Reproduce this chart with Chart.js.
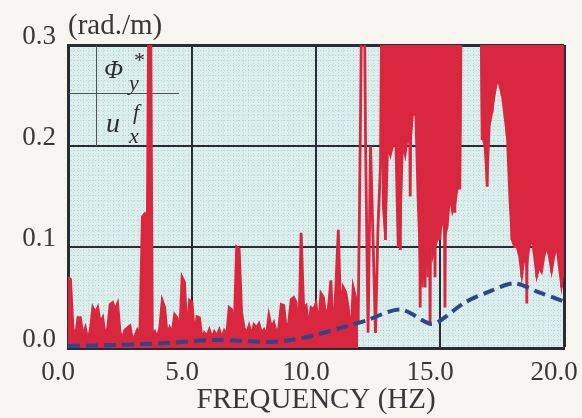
<!DOCTYPE html>
<html>
<head>
<meta charset="utf-8">
<script src="https://cdn.jsdelivr.net/npm/chart.js@4"></script>
<style>
  html, body { margin: 0; padding: 0; background: #f6f5f0; }
  #wrap { width: 582px; height: 418px; }
</style>
</head>
<body>
<div id="wrap"><canvas id="spec"></canvas></div>
<script>
// red trace sampled every 0.1 Hz from 0.0 to 20.0 (values above 0.3 run off the top)
const freqStep = 0.1;
const phiVals = [
    0.07, 0.068, 0.02, 0.01, 0.03, 0.03, 0.012, 0.02, 0.008, 0.018,
    0.04, 0.035, 0.04, 0.025, 0.03, 0.012, 0.02, 0.043, 0.045, 0.038,
    0.044, 0.015, 0.01, 0.018, 0.02, 0.022, 0.008, 0.012, 0.018, 0.015,
    0.13, 0.133, 0.13, 0.5, 0.012, 0.016, 0.01, 0.02, 0.047, 0.04,
    0.012, 0.02, 0.015, 0.033, 0.03, 0.01, 0.07, 0.065, 0.012, 0.047,
    0.045, 0.012, 0.031, 0.03, 0.01, 0.015, 0.012, 0.018, 0.01, 0.016,
    0.012, 0.018, 0.01, 0.017, 0.013, 0.04, 0.038, 0.015, 0.1, 0.098,
    0.035, 0.02, 0.015, 0.022, 0.013, 0.023, 0.02, 0.024, 0.015, 0.018,
    0.012, 0.032, 0.02, 0.025, 0.015, 0.02, 0.043, 0.042, 0.018, 0.025,
    0.048, 0.05, 0.045, 0.005, 0.114, 0.04, 0.042, 0.02, 0.04, 0.038,
    0.044, 0.02, 0.054, 0.05, 0.03, 0.04, 0.067, 0.008, 0.06, 0.117,
    0.03, 0.06, 0.055, 0.04, 0.008, 0.06, 0.05, 0.025, 0.24, 0.5,
    0.2, 0.015, 0.2, 0.107, 0.015, 0.12, 0.18, 0.5, 0.107, 0.5,
    0.2, 0.5, 0.2, 0.5, 0.097, 0.5, 0.206, 0.5, 0.15, 0.5,
    0.23, 0.5, 0.04, 0.5, 0.06, 0.5, 0.025, 0.5, 0.07, 0.5,
    0.107, 0.5, 0.04, 0.5, 0.15, 0.5, 0.134, 0.5, 0.157, 0.5,
    0.5, 0.5, 0.5, 0.5, 0.5, 0.5, 0.5, 0.206, 0.5, 0.16,
    0.5, 0.233, 0.5, 0.265, 0.5, 0.25, 0.5, 0.21, 0.5, 0.107,
    0.5, 0.1, 0.5, 0.07, 0.5, 0.044, 0.5, 0.107, 0.5, 0.07,
    0.5, 0.075, 0.5, 0.1, 0.5, 0.075, 0.5, 0.1, 0.5, 0.06,
    0.5
];
// below this frequency the trace reads as a filled skyline
const skylineEnd = 11.7;

// lower edge of the solid red block above 12.6 Hz (red fills from here up)
const bandStart = 12.6;
const phiBandVals = [
    0.5,
    0.14, 0.107, 0.2, 0.19, 0.2, 0.21, 0.1, 0.12, 0.2, 0.19,
    0.21, 0.2, 0.23, 0.24, 0.15, 0.08, 0.06, 0.12, 0.07, 0.14,
    0.09, 0.1, 0.107, 0.11, 0.13, 0.11, 0.12, 0.15, 0.134, 0.14,
    0.157, 0.16, 0.5, 0.5, 0.5, 0.5, 0.5, 0.5, 0.5, 0.5,
    0.21, 0.2, 0.16, 0.22, 0.233, 0.25, 0.265, 0.26, 0.25, 0.23,
    0.21, 0.15, 0.107, 0.1, 0.1, 0.09, 0.07, 0.09, 0.08, 0.1,
    0.107, 0.09, 0.07, 0.08, 0.075, 0.09, 0.1, 0.09, 0.075, 0.09,
    0.1, 0.08, 0.06, 0.08
];

// blue dashed trace
const uFreq = [0, 2, 4, 6, 8, 9, 10, 11, 12, 13.4, 14.6, 15, 16, 17, 18, 19, 20];
const uVals = [0.002, 0.003, 0.005, 0.008, 0.006, 0.008, 0.013, 0.02, 0.027, 0.038, 0.024, 0.027, 0.045, 0.056, 0.064, 0.055, 0.046];

const xTicks = [0, 5, 10, 15, 20];
const yTicks = [0, 0.1, 0.2, 0.3];

const serif = "'Liberation Serif', 'Times New Roman', serif";
const inkColor = '#383838';
const gridColor = '#272c37';
const redColor = '#d8273f';

const paperPlugin = {
    id: 'paper',
    beforeDraw(chart) {
        const {ctx, chartArea: a} = chart;
        ctx.save();
        ctx.fillStyle = '#f6f5f0';
        ctx.fillRect(0, 0, chart.width, chart.height);
        ctx.fillStyle = '#dbeeec';
        ctx.fillRect(a.left, a.top, a.right - a.left, a.bottom - a.top);
        // faint printed screen
        ctx.strokeStyle = 'rgba(140, 180, 180, 0.4)';
        ctx.lineWidth = 1;
        ctx.setLineDash([1, 2]);
        ctx.beginPath();
        for (let x = a.left + 5; x < a.right; x += 5) {
            ctx.moveTo(x + 0.5, a.top);
            ctx.lineTo(x + 0.5, a.bottom);
        }
        for (let y = a.top + 5; y < a.bottom; y += 5) {
            ctx.moveTo(a.left, y + 0.5);
            ctx.lineTo(a.right, y + 0.5);
        }
        ctx.stroke();
        ctx.restore();
    },
    beforeDatasetsDraw(chart) {
        const {ctx, chartArea: a, scales} = chart;
        const y2 = scales.y.getPixelForValue(0.2);
        ctx.save();
        // little key table in the corner
        ctx.strokeStyle = '#4a4f58';
        ctx.lineWidth = 1;
        ctx.beginPath();
        ctx.moveTo(a.left + 28.5, a.top);
        ctx.lineTo(a.left + 28.5, y2);
        ctx.moveTo(a.left, a.top + 48.5);
        ctx.lineTo(a.left + 111, a.top + 48.5);
        ctx.stroke();

        ctx.fillStyle = '#2e2e2e';
        ctx.textBaseline = 'alphabetic';
        ctx.textAlign = 'left';
        ctx.font = "italic 25px " + serif;
        ctx.fillText('\u03A6', a.left + 36, a.top + 33);
        ctx.font = "italic 28px " + serif;
        ctx.fillText('u', a.left + 38, a.top + 87);
        ctx.font = "22px " + serif;
        ctx.fillText('*', a.left + 66, a.top + 22);
        ctx.font = "italic 22px " + serif;
        ctx.fillText('y', a.left + 61, a.top + 45);
        ctx.fillText('f', a.left + 65, a.top + 74);
        ctx.fillText('x', a.left + 61, a.top + 98);
        ctx.restore();
    },
    afterDraw(chart) {
        const {ctx, chartArea: a} = chart;
        ctx.save();
        ctx.fillStyle = inkColor;
        ctx.font = "29px " + serif;
        ctx.textAlign = 'left';
        ctx.textBaseline = 'alphabetic';
        ctx.fillText('(rad./m)', a.left, a.top - 11);
        ctx.restore();
    }
};

const phiData = phiVals.map((v, i) => ({x: i * freqStep, y: v}));
const phiLow = phiData.filter(p => p.x <= skylineEnd + 1e-9);
const phiHigh = phiData.filter(p => p.x >= skylineEnd - 1e-9);
const bandData = phiBandVals.map((v, i) => ({x: bandStart + i * freqStep, y: v}));
const uData = uFreq.map((f, i) => ({x: f, y: uVals[i]}));

new Chart(document.getElementById('spec'), {
    type: 'line',
    data: {
        datasets: [
            {
                label: 'phi low',
                data: phiLow,
                borderColor: redColor,
                backgroundColor: redColor,
                borderWidth: 2.8,
                fill: 'origin',
                pointRadius: 0,
                tension: 0,
                order: 4
            },
            {
                label: 'phi high',
                data: phiHigh,
                borderColor: redColor,
                borderWidth: 2.8,
                pointRadius: 0,
                tension: 0,
                order: 3
            },
            {
                label: 'phi band',
                data: bandData,
                borderColor: redColor,
                borderWidth: 2,
                backgroundColor: redColor,
                fill: 'end',
                pointRadius: 0,
                tension: 0,
                order: 2
            },
            {
                label: 'u',
                data: uData,
                borderColor: '#2d468c',
                borderWidth: 4,
                borderDash: [12, 6],
                pointRadius: 0,
                tension: 0.3,
                order: 1
            }
        ]
    },
    options: {
        responsive: true,
        maintainAspectRatio: false,
        animation: false,
        layout: {padding: {top: 45, right: 18, left: 0, bottom: 0}},
        plugins: {legend: {display: false}, tooltip: {enabled: false}},
        scales: {
            x: {
                type: 'linear',
                min: 0,
                max: 20,
                z: 1,
                afterBuildTicks: (s) => { s.ticks = xTicks.map(v => ({value: v})); },
                afterFit: (s) => { s.height = 70; s.paddingRight = 8; s.paddingLeft = 0; },
                ticks: {
                    callback: (v) => Number(v).toFixed(1),
                    font: {family: serif, size: 27},
                    color: inkColor,
                    padding: 9,
                    labelOffset: -10,
                    maxRotation: 0
                },
                grid: {
                    color: gridColor,
                    lineWidth: (c) => (c.tick && c.tick.value === 20 ? 3 : 2),
                    drawTicks: false
                },
                border: {display: true, color: gridColor, width: 3},
                title: {
                    display: true,
                    text: 'FREQUENCY (HZ)',
                    font: {family: serif, size: 29},
                    color: inkColor,
                    padding: {top: 0, bottom: 0}
                }
            },
            y: {
                min: 0,
                max: 0.3,
                z: 1,
                afterBuildTicks: (s) => { s.ticks = yTicks.map(v => ({value: v})); },
                afterFit: (s) => { s.width = 68; },
                ticks: {
                    callback: (v) => Number(v).toFixed(1),
                    font: {family: serif, size: 27},
                    color: inkColor,
                    padding: 12,
                    labelOffset: -8
                },
                grid: {
                    color: gridColor,
                    lineWidth: (c) => (c.tick && c.tick.value === 0.3 ? 3 : 2),
                    drawTicks: false
                },
                border: {display: true, color: gridColor, width: 3}
            }
        }
    },
    plugins: [paperPlugin]
});
</script>
</body>
</html>
